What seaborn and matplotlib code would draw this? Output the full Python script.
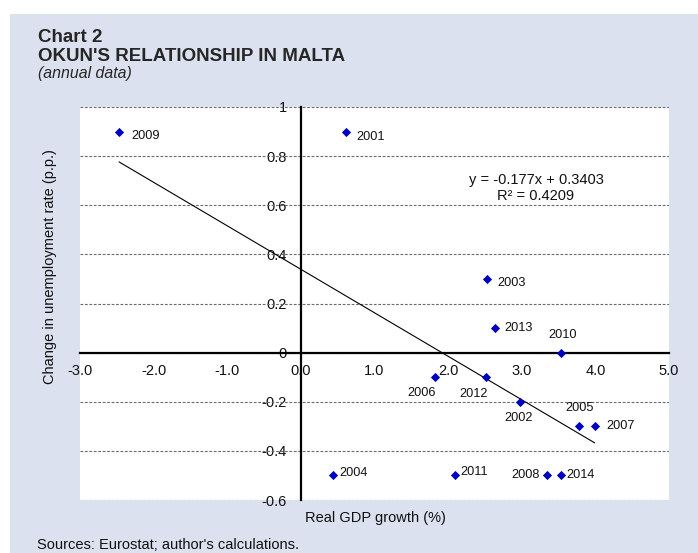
import numpy as np
import pandas as pd
import matplotlib
matplotlib.use("Agg")
import matplotlib.pyplot as plt
import seaborn as sns
from matplotlib.patches import Rectangle

# data
years = ["2009", "2001", "2003", "2013", "2010", "2006", "2012",
         "2002", "2005", "2007", "2011", "2008", "2014", "2004"]
gdp_growth = [-2.47, 0.61, 2.53, 2.64, 3.53, 1.82, 2.52,
              2.98, 3.78, 3.99, 2.10, 3.34, 3.53, 0.44]
unemp_change = [0.9, 0.9, 0.3, 0.1, 0.0, -0.1, -0.1,
                -0.2, -0.3, -0.3, -0.5, -0.5, -0.5, -0.5]

x_ticks = [-3, -2, -1, 0, 1, 2, 3, 4, 5]
x_tick_labels = ["-3.0", "-2.0", "-1.0", "0.0", "1.0", "2.0", "3.0", "4.0", "5.0"]
y_ticks = [-0.6, -0.4, -0.2, 0, 0.2, 0.4, 0.6, 0.8, 1.0]
y_tick_labels = ["-0.6", "-0.4", "-0.2", "0", "0.2", "0.4", "0.6", "0.8", "1"]

# label offsets in pixels (dx, dy, ha)
label_pos = {
    "2009": (12, -4, "left"),
    "2001": (11, -5, "left"),
    "2003": (10, -4, "left"),
    "2013": (9, 0, "left"),
    "2010": (2, 18, "center"),
    "2006": (-13, -16, "center"),
    "2012": (-13, -17, "center"),
    "2002": (-2, -16, "center"),
    "2005": (0, 18, "center"),
    "2007": (12, 0, "left"),
    "2011": (5, 3, "left"),
    "2008": (-7, 0, "right"),
    "2014": (6, 0, "left"),
    "2004": (6, 2, "left"),
}

df = pd.DataFrame({"year": years, "gdp": gdp_growth, "unemp": unemp_change})

sns.set_style("white")
plt.rcParams["font.family"] = ["Liberation Sans", "DejaVu Sans"]

W, H = 698, 553
fig = plt.figure(figsize=(W / 100, H / 100), dpi=100, facecolor="white")

# light blue panel behind everything
bg = Rectangle((10 / W, 0), (W - 10) / W, (H - 14) / H,
               transform=fig.transFigure, facecolor="#dbe1ee",
               edgecolor="none", zorder=-10)
fig.patches.append(bg)

ax = fig.add_axes([80 / W, (H - 500) / H, 589 / W, 393 / H])
ax.set_facecolor("white")
ax.set_zorder(1)

# dashed horizontal gridlines
for yv in y_ticks:
    ax.axhline(yv, color="#6b6b6b", lw=0.8, ls=(0, (2.5, 1.5)), zorder=1)

sns.regplot(data=df, x="gdp", y="unemp", scatter=False, ci=None, ax=ax,
            line_kws={"color": "black", "lw": 0.8, "zorder": 2})
sns.scatterplot(data=df, x="gdp", y="unemp", marker="D", color="#0000c0",
                s=22, linewidth=0, ax=ax, zorder=4)

for yr, xv, yv in zip(years, gdp_growth, unemp_change):
    dx, dy, ha = label_pos[yr]
    ax.annotate(yr, (xv, yv), xytext=(dx, dy), textcoords="offset pixels",
                ha=ha, va="center", fontsize=9.2, color="#111111", zorder=5)

ax.set_xlim(-3, 5)
ax.set_ylim(-0.6, 1.0)
ax.set_xticks(x_ticks)
ax.set_xticklabels(x_tick_labels)
ax.set_yticks(y_ticks)
ax.set_yticklabels(y_tick_labels)
ax.set_xlabel("")
ax.set_ylabel("")

for s in ["top", "right"]:
    ax.spines[s].set_visible(False)
ax.spines["left"].set_position(("data", 0))
ax.spines["bottom"].set_position(("data", 0))
for s in ["left", "bottom"]:
    ax.spines[s].set_color("black")
    ax.spines[s].set_linewidth(1.6)
    ax.spines[s].set_zorder(3)
ax.tick_params(axis="both", length=0, labelsize=10.5, colors="#111111")
ax.tick_params(axis="y", pad=10)
ax.tick_params(axis="x", pad=8)

fig.text(536 / W, 1 - 188 / H, "y = -0.177x + 0.3403\nR² = 0.4209",
         fontsize=10.5, ha="center", va="center", color="#111111",
         linespacing=1.1)

fig.text(375 / W, 1 - 518 / H, "Real GDP growth (%)", fontsize=10.5,
         ha="center", va="center", color="#111111")
fig.text(50 / W, 1 - 267 / H, "Change in unemployment rate (p.p.)", fontsize=10.5,
         rotation=90, ha="center", va="center", color="#111111")

fig.text(38 / W, 1 - 41.7 / H, "Chart 2", fontsize=13.5, fontweight="bold",
         va="baseline", ha="left")
fig.text(38 / W, 1 - 61 / H, "OKUN'S RELATIONSHIP IN MALTA", fontsize=13.5,
         fontweight="bold", va="baseline", ha="left")
fig.text(38 / W, 1 - 78 / H, "(annual data)", fontsize=11.4, style="italic",
         va="baseline", ha="left")
fig.text(37 / W, 1 - 549 / H, "Sources: Eurostat; author's calculations.",
         fontsize=10.5, va="baseline", ha="left", color="#111111")

fig.savefig("out.png", dpi=100, facecolor=fig.get_facecolor())
